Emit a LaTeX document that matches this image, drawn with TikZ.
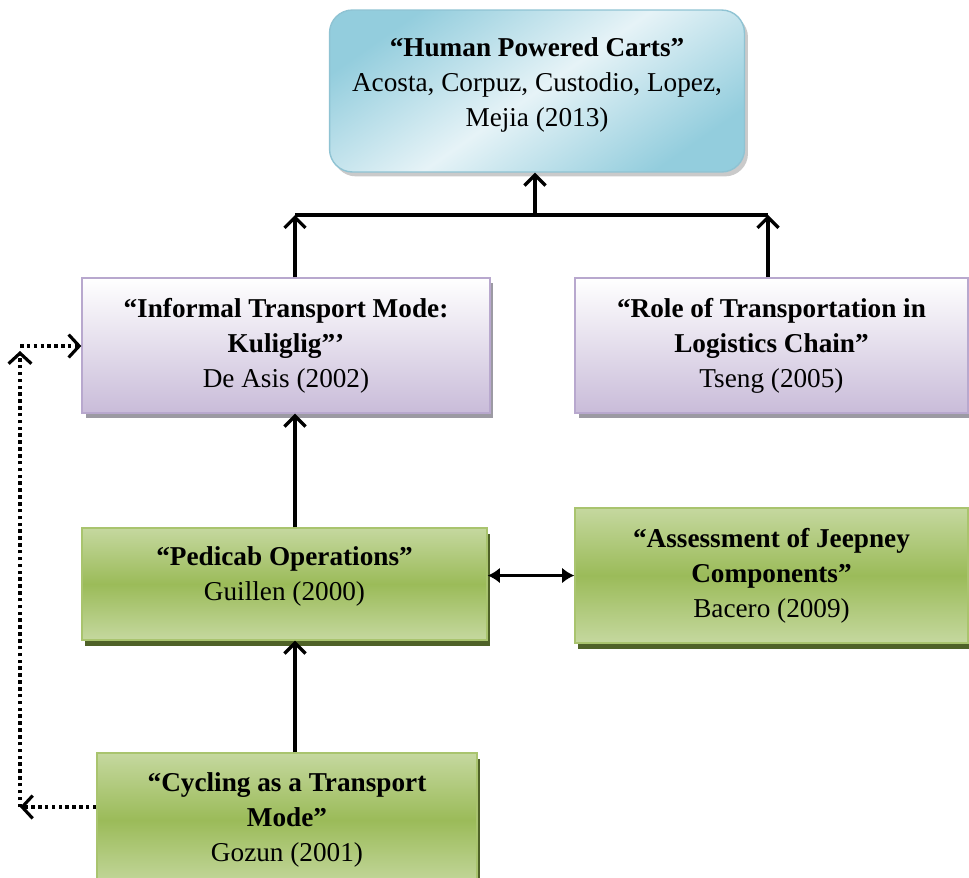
\documentclass[tikz,border=0pt]{standalone}
\usepackage{fontspec}
\setmainfont{Liberation Serif}
\usetikzlibrary{arrows.meta, shadows, calc}
\definecolor{cartblue}{HTML}{93CDDD}
\definecolor{cartlight}{HTML}{E6F3F7}
\definecolor{cartline}{HTML}{8FC3D3}
\definecolor{lilac}{HTML}{C9BCD9}
\definecolor{lilacline}{HTML}{B8A8CE}
\definecolor{lilacshadow}{HTML}{9C9AA3}
\definecolor{leafdark}{HTML}{9BBB59}
\definecolor{leaflight}{HTML}{C5D89F}
\definecolor{leafline}{HTML}{A9C46E}
\definecolor{leafshadow}{HTML}{4F6228}

\begin{document}
\begin{tikzpicture}[x=0.02cm, y=-0.02cm,
    every node/.style={align=center, inner sep=0pt, font=\fontsize{15.5}{20}\selectfont},
    cartbox/.style={draw=cartline, line width=0.8pt, rounded corners=13pt,
      top color=cartblue, bottom color=cartblue, middle color=cartlight, shading angle=35,
      drop shadow={shadow xshift=2pt, shadow yshift=-2.5pt, fill=black!35, opacity=0.6}},
    lilacbox/.style={draw=lilacline, line width=0.8pt, top color=white, bottom color=lilac,
      drop shadow={shadow xshift=2pt, shadow yshift=-3pt, fill=lilacshadow, opacity=1}},
    leafbox/.style={draw=leafline, line width=0.8pt, top color=leaflight, bottom color=leaflight,
      middle color=leafdark,
      drop shadow={shadow xshift=1.5pt, shadow yshift=-3.5pt, fill=leafshadow, opacity=1}},
    arr/.style={line width=1.9pt, -{Straight Barb[length=6pt, width=12pt, line width=1.9pt]}},
    dualarr/.style={line width=1.9pt, {Latex[length=7pt, width=9pt]}-{Latex[length=7pt, width=9pt]}},
    dotarr/.style={line width=2pt, dash pattern=on 2pt off 1.9pt,
      -{Straight Barb[length=6pt, width=13pt, line width=1.8pt]}}]
    \clip (0,0) rectangle (969,877);
    % boxes
    \node[cartbox, minimum width=8.3cm, minimum height=3.24cm] (carts) at (537,91)
      {\textbf{“Human Powered Carts”}\\Acosta, Corpuz, Custodio, Lopez,\\Mejia (2013)\\[-10pt]};
    \node[lilacbox, minimum width=8.16cm, minimum height=2.7cm] (informal) at (286,345.5)
      {\textbf{“Informal Transport Mode:}\\\textbf{Kuliglig”’}\\De Asis (2002)};
    \node[lilacbox, minimum width=7.86cm, minimum height=2.7cm] (role) at (771.5,345.5)
      {\textbf{“Role of Transportation in}\\\textbf{Logistics Chain”}\\Tseng (2005)};
    \node[leafbox, minimum width=8.1cm, minimum height=2.24cm] (pedicab) at (284.5,584)
      {\textbf{“Pedicab Operations”}\\Guillen (2000)\\[-8pt]};
    \node[leafbox, minimum width=7.86cm, minimum height=2.7cm] (jeepney) at (771.5,575.5)
      {\textbf{“Assessment of Jeepney}\\\textbf{Components”}\\Bacero (2009)};
    \node[leafbox, minimum width=7.6cm, minimum height=2.68cm] (cycling) at (287,820)
      {\textbf{“Cycling as a Transport}\\\textbf{Mode”}\\Gozun (2001)};
    % joints
    \coordinate (lj) at (295,215);
    \coordinate (mj) at (535,215);
    \coordinate (rj) at (768,215);
    \coordinate (dbot) at (20,807);
    \coordinate (dtip) at (20,351);
    \coordinate (dtop) at (20,346);
    % top bar
    \draw[line width=1.9pt] (lj) -- (rj);
    \draw[arr] (mj) -- (carts.south -| mj);
    \draw[arr] (informal.north -| lj) -- (lj);
    \draw[arr] (role.north -| rj) -- (rj);
    % vertical chain
    \draw[arr] (pedicab.north -| lj) -- (informal.south -| lj);
    \draw[arr] (cycling.north -| lj) -- (pedicab.south -| lj);
    \draw[dualarr] (pedicab.east |- jeepney) -- (jeepney.west);
    % dotted loop on the left
    \draw[dotarr] (cycling.west |- dbot) -- (dbot);
    \draw[dotarr] (dbot) -- (dtip);
    \draw[dotarr] (dtop) -- (informal.west |- dtop);
\end{tikzpicture}
\end{document}
